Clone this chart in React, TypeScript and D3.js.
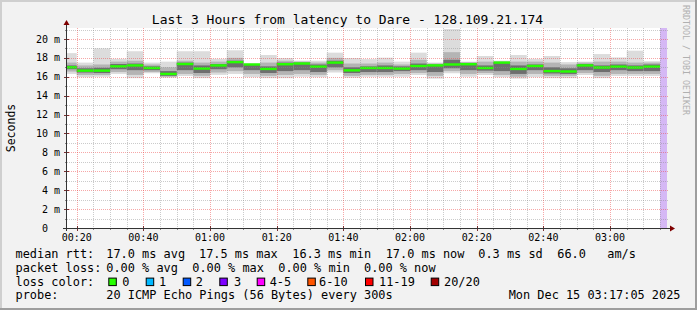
import React from 'react';
import * as d3 from 'd3';

const W = 697;
const H = 310;

const titleText = 'Last 3 Hours from latency to Dare - 128.109.21.174';
const yAxisTitle = 'Seconds';
const watermark = 'RRDTOOL / TOBI OETIKER';

// time in seconds since 00:00
const viewStart = 17 * 60 + 5; // 00:17:05
const viewEnd = viewStart + 3 * 3600; // 03:17:05
const firstSlotStart = 15 * 60; // 00:15
const slotLen = 300;
const unknownStart = 3 * 3600 + 15 * 60; // 03:15

// per 5-min slot ping distribution (ms)
const pMin = [16.3, 15.95, 16.0, 16.3, 15.85, 16.37, 15.9, 16.08, 15.85, 16.2, 16.3, 15.95, 15.85, 15.85, 16.0, 15.95, 16.45, 15.9, 16.0, 16.0, 16.0, 16.19, 15.8, 16.37, 16.0, 16.19, 15.95, 15.8, 15.95, 15.85, 15.85, 16.19, 15.85, 16.08, 16.08, 16.08];
const p10 = [16.55, 16.2, 16.2, 16.5, 16.2, 16.5, 16.0, 16.3, 16.1, 16.45, 16.6, 16.3, 16.1, 16.2, 16.3, 16.2, 16.7, 16.1, 16.2, 16.2, 16.3, 16.4, 16.1, 16.6, 16.3, 16.4, 16.2, 16.0, 16.3, 16.1, 16.1, 16.4, 16.1, 16.3, 16.3, 16.3];
const p25 = [16.8, 16.45, 16.4, 16.8, 16.7, 16.7, 16.1, 16.7, 16.4, 16.8, 17.0, 16.7, 16.4, 16.6, 16.7, 16.5, 17.0, 16.4, 16.5, 16.5, 16.6, 16.7, 16.5, 16.9, 16.7, 16.65, 16.6, 16.3, 16.7, 16.35, 16.3, 16.7, 16.5, 16.7, 16.6, 16.6];
const median = [17.0, 16.65, 16.65, 17.1, 17.2, 16.93, 16.3, 17.35, 16.87, 17.2, 17.55, 17.3, 16.83, 17.33, 17.4, 17.07, 17.5, 16.68, 16.93, 16.93, 16.87, 17.14, 17.2, 17.3, 17.33, 16.93, 17.5, 16.83, 17.14, 16.6, 16.56, 17.2, 16.98, 17.07, 16.98, 17.07];
const p75 = [17.2, 16.9, 16.95, 17.35, 17.4, 17.1, 16.6, 17.5, 17.2, 17.35, 17.7, 17.33, 17.1, 17.5, 17.5, 17.3, 17.7, 17.0, 17.1, 17.2, 17.1, 17.4, 17.3, 17.8, 17.45, 17.2, 17.55, 17.2, 17.3, 17.0, 16.9, 17.35, 17.2, 17.3, 17.2, 17.3];
const p90 = [17.5, 17.2, 17.3, 17.6, 17.7, 17.3, 17.0, 17.7, 17.5, 17.6, 18.0, 17.37, 17.5, 17.7, 17.6, 17.5, 18.0, 17.4, 17.4, 17.5, 17.3, 17.8, 17.4, 18.6, 17.55, 17.6, 17.62, 17.6, 17.6, 17.5, 17.3, 17.5, 17.6, 17.6, 17.5, 17.5];
const pMax = [18.5, 17.5, 19.0, 17.9, 18.7, 17.5, 17.6, 18.7, 18.7, 17.9, 18.8, 17.4, 18.3, 17.98, 17.7, 17.7, 18.55, 17.98, 17.87, 18.02, 17.6, 18.55, 17.5, 21.05, 17.6, 18.2, 17.7, 18.3, 17.9, 18.2, 17.55, 17.6, 18.4, 18.05, 18.76, 17.65];

const xLabels = ['00:20', '00:40', '01:00', '01:20', '01:40', '02:00', '02:20', '02:40', '03:00'];

const lossLabels = ['0', '1', '2', '3', '4-5', '6-10', '11-19', '20/20'];
const lossColors = ['#26ff00', '#00b8ff', '#0059ff', '#7e00ff', '#ff00ff', '#ff5500', '#ff0000', '#a10000'];

const rttItems = ['17.0 ms avg', '17.5 ms max', '16.3 ms min', '17.0 ms now', '0.3 ms sd', '66.0', 'am/s'];
const lossItems = ['0.00 % avg', '0.00 % max', '0.00 % min', '0.00 % now'];
const probeText = '20 ICMP Echo Pings (56 Bytes) every 300s';
const dateText = 'Mon Dec 15 03:17:05 2025';

export default function App() {
  const X0 = 67, X1 = 667, Y0 = 228, Y1 = 28;
  const yMax = 21.16;
  const x = d3.scaleLinear().domain([viewStart, viewEnd]).range([X0, X1]);
  const y = d3.scaleLinear().domain([0, yMax]).range([Y0, Y1]);
  const font = 'DejaVu Sans Mono';

  const slots = median.map((m, i) => {
    const s = firstSlotStart + i * slotLen;
    const x0 = Math.max(X0, x(s));
    const x1 = x(s + slotLen);
    return { i, x0, x1 };
  });

  const bands: [number[], number[], string][] = [
    [pMin, pMax, '#dcdcdc'],
    [p10, p90, '#b4b4b4'],
    [p25, p75, '#6e6e6e'],
  ];

  const minorY = d3.range(1, 22, 1).filter(v => v % 2 !== 0 && v <= yMax);
  const majorY = d3.range(0, 22, 2).filter(v => v <= yMax);
  const minorX = d3.range(Math.ceil(viewStart / 300) * 300, viewEnd, 300).filter(t => t % 1200 !== 0);
  const majorX = d3.range(Math.ceil(viewStart / 1200) * 1200, viewEnd, 1200);

  const gridMinor = 'rgba(140,140,140,0.45)';
  const gridMajor = 'rgba(235,60,60,0.45)';

  const legendX = [107.3, 200, 293.3, 386.7, 479.3, 558.3, 608.3];
  const lossX = [107.3, 193.3, 279.3, 365];
  const boxX = [108.3, 145.7, 182.7, 219.3, 256.7, 307.3, 365, 430.7];
  const boxLabelX = [123.3, 160, 196.7, 235, 270.7, 320, 380, 445];
  const lineY = [258, 271.8, 285.6, 299.4];

  return (
    <svg width={W} height={H} style={{ position: 'absolute', left: 0, top: 0 }} xmlns="http://www.w3.org/2000/svg">
      <rect x={0} y={0} width={W} height={H} fill="#f2f2f2" />
      <rect x={0} y={0} width={W} height={2} fill="#cfcfcf" />
      <rect x={0} y={0} width={2} height={H} fill="#cfcfcf" />
      <rect x={0} y={H - 2} width={W} height={2} fill="#9e9e9e" />
      <rect x={W - 2} y={0} width={2} height={H} fill="#9e9e9e" />
      <rect x={X0} y={Y1} width={X1 - X0} height={Y0 - Y1} fill="#ffffff" />

      {bands.map(([lo, hi, c], b) => (
        <g key={b}>
          {slots.map(s => (
            <rect key={s.i} x={s.x0} width={s.x1 - s.x0} y={y(hi[s.i])} height={y(lo[s.i]) - y(hi[s.i])} fill={c} />
          ))}
        </g>
      ))}
      {slots.map(s => (
        <rect key={'m' + s.i} x={s.x0} width={s.x1 - s.x0} y={y(median[s.i]) - 1.2} height={2.4} fill={lossColors[0]} />
      ))}
      <rect x={x(unknownStart)} y={Y1} width={X1 - x(unknownStart)} height={Y0 - Y1} fill="#d5b8f5" />

      {/* grid */}
      {minorY.map(v => (
        <g key={'my' + v}>
          <line x1={X0} x2={X1 + 2} y1={Math.round(y(v)) + 0.5} y2={Math.round(y(v)) + 0.5} stroke={gridMinor} strokeDasharray="1,1" />
          <line x1={X0 - 2} x2={X0} y1={Math.round(y(v)) + 0.5} y2={Math.round(y(v)) + 0.5} stroke="#888" />
        </g>
      ))}
      {majorY.filter(v => v > 0).map(v => (
        <g key={'My' + v}>
          <line x1={X0} x2={X1 + 2} y1={Math.round(y(v)) + 0.5} y2={Math.round(y(v)) + 0.5} stroke={gridMajor} strokeDasharray="1,1" />
          <line x1={X0 - 3} x2={X0 + 2} y1={Math.round(y(v)) + 0.5} y2={Math.round(y(v)) + 0.5} stroke="#7a3030" />
        </g>
      ))}
      {minorX.map(t => (
        <g key={'mx' + t}>
          <line x1={Math.round(x(t)) + 0.5} x2={Math.round(x(t)) + 0.5} y1={Y1} y2={Y0} stroke={gridMinor} strokeDasharray="1,1" />
          <line x1={Math.round(x(t)) + 0.5} x2={Math.round(x(t)) + 0.5} y1={Y0} y2={Y0 + 2} stroke="#888" />
        </g>
      ))}
      {majorX.map(t => (
        <g key={'Mx' + t}>
          <line x1={Math.round(x(t)) + 0.5} x2={Math.round(x(t)) + 0.5} y1={Y1} y2={Y0} stroke={gridMajor} strokeDasharray="1,1" />
          <line x1={Math.round(x(t)) + 0.5} x2={Math.round(x(t)) + 0.5} y1={Y0 - 2} y2={Y0 + 3} stroke="#7a3030" />
        </g>
      ))}

      {/* axes */}
      <line x1={X0 - 0.5} x2={X0 - 0.5} y1={Y0 + 3} y2={Y1 - 4} stroke="#333" />
      <line x1={X0 - 4} x2={X1 + 4} y1={Y0 + 0.5} y2={Y0 + 0.5} stroke="#333" />
      <path d={`M${X0 - 3.5},${Y1 - 3} L${X0 + 2.5},${Y1 - 3} L${X0 - 0.5},${Y1 - 8} Z`} fill="#7f0000" />
      <path d={`M${X1 + 3},${Y0 - 2.5} L${X1 + 3},${Y0 + 3.5} L${X1 + 8},${Y0 + 0.5} Z`} fill="#7f0000" />

      {/* y labels */}
      {majorY.map(v => (
        <text key={'yl' + v} x={60} y={y(v) + 3.6} fontFamily={font} fontSize={10} textAnchor="end" fill="#000">
          {v === 0 ? '0\u00a0\u00a0' : `${v} m`}
        </text>
      ))}
      {/* x labels */}
      {majorX.map((t, k) => (
        <text key={'xl' + t} x={x(t)} y={241} fontFamily={font} fontSize={10} textAnchor="middle" fill="#000">
          {xLabels[k]}
        </text>
      ))}

      <text x={347.5} y={24} fontFamily={font} fontSize={13} textAnchor="middle" fill="#000">{titleText}</text>
      <text transform={`translate(15,${(Y0 + Y1) / 2}) rotate(-90)`} fontFamily={font} fontSize={11.5} textAnchor="middle" fill="#000">{yAxisTitle}</text>
      <text transform={`translate(683,5) rotate(90)`} fontFamily={font} fontSize={8.3} fill="#b0b0b0">{watermark}</text>

      {/* legend */}
      <g fontFamily={font} fontSize={11.9} fill="#000">
        <text x={15.5} y={lineY[0]}>median rtt:</text>
        {rttItems.map((t, k) => (
          <text key={'r' + k} x={legendX[k] - 1} y={lineY[0]}>{t}</text>
        ))}
        <text x={15.5} y={lineY[1]}>packet loss:</text>
        {lossItems.map((t, k) => (
          <text key={'l' + k} x={lossX[k] - 1} y={lineY[1]}>{t}</text>
        ))}
        <text x={15.5} y={lineY[2]}>loss color:</text>
        {lossLabels.map((t, k) => (
          <g key={'c' + k}>
            <rect x={boxX[k] + 0.5} y={lineY[2] - 7.5} width={7.5} height={7.5} fill={lossColors[k]} stroke="#000" strokeWidth={1} />
            <text x={boxLabelX[k] - 1} y={lineY[2]}>{t}</text>
          </g>
        ))}
        <text x={15.5} y={lineY[3]}>probe:</text>
        <text x={106.3} y={lineY[3]}>{probeText}</text>
        <text x={680.5} y={lineY[3]} textAnchor="end">{dateText}</text>
      </g>
    </svg>
  );
}
